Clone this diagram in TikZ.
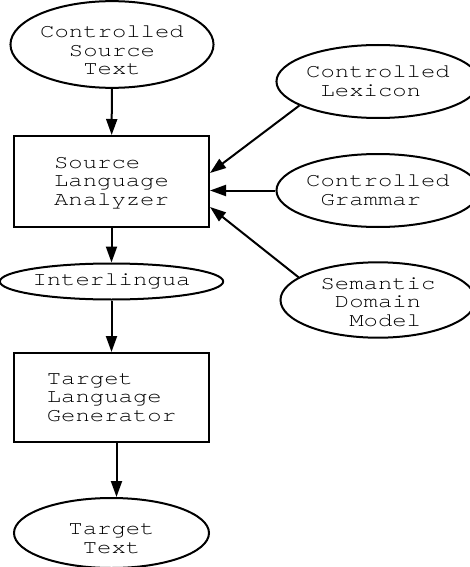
\documentclass[tikz,border=0pt]{standalone}
\usepackage{fontspec}
\newfontfamily\diafont[FakeStretch=1.24]{TeX Gyre Cursor}
\usetikzlibrary{shapes.geometric,arrows.meta}
\newcommand{\lowerby}[1]{\rule{0pt}{#1}}

\begin{document}
\begin{tikzpicture}[x=1pt,y=-1pt,line width=2pt,>={Triangle[length=16pt,width=11pt]},
oval/.style={draw,ellipse,minimum width=195pt,minimum height=73pt,inner sep=0pt,align=center,font=\diafont\fontsize{19.3}{18.5}\selectfont},
unit/.style={draw,rectangle,minimum width=195pt,minimum height=91pt,inner sep=0pt,align=left,font=\diafont\fontsize{19.3}{18.5}\selectfont}]
\useasboundingbox (0,0) rectangle (469,567);
\node[oval] (src) at (112,44.5) {\lowerby{24pt}Controlled\\Source\\Text};
\node[unit] (sla) at (111.5,181.5) {\lowerby{14.5pt}Source\\Language\\Analyzer};
\node[oval,minimum height=36pt] (il) at (111.5,281.5) {Interlingua};
\node[unit,minimum height=89pt] (tlg) at (111.5,397.5) {Target\\Language\\Generator};
\node[oval,minimum height=70pt] (tgt) at (111.5,533) {\lowerby{22pt}Target\\Text};
\node[oval,minimum width=192pt] (lex) at (378,81.5) {Controlled\\Lexicon\hphantom{M}};
\node[oval] (gram) at (378,190.5) {Controlled\\Grammar\hphantom{M}};
\node[oval,minimum height=74pt] (sdm) at (378,300) {\lowerby{16pt}Semantic\\Domain\\\hphantom{M}Model};
\draw[->] (src) -- (sla);
\draw[->] (sla) -- (il);
\draw[->] (il) -- (tlg);
\draw[->] ([xshift=5pt]tlg.south) -- ([xshift=5pt]tgt.north);
\draw[->] (lex.197) -- ([yshift=8.5pt]sla.east);
\draw[->] (gram.west) -- (sla.east |- gram.west);
\draw[->] (sdm.164) -- ([yshift=-25.5pt]sla.east);
\end{tikzpicture}
\end{document}
